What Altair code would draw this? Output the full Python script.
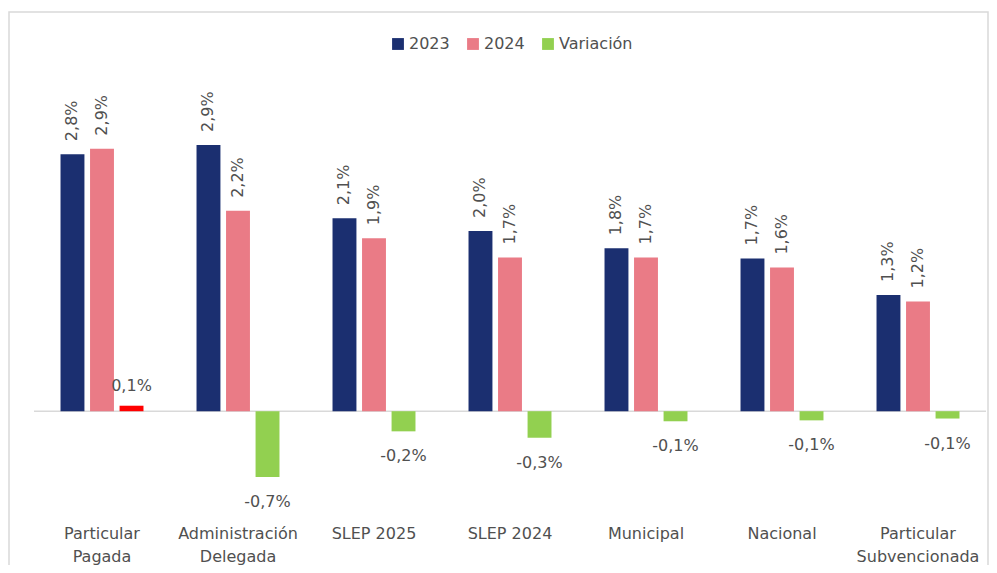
import altair as alt
import pandas as pd

categories = ["Particular|Pagada", "Administración|Delegada", "SLEP 2025", "SLEP 2024",
              "Municipal", "Nacional", "Particular|Subvencionada"]
series = ["2023", "2024", "Variación"]
v2023 = [2.81, 2.91, 2.11, 1.97, 1.78, 1.67, 1.27]
v2024 = [2.87, 2.19, 1.89, 1.68, 1.68, 1.57, 1.20]
vvar = [0.06, -0.72, -0.22, -0.29, -0.11, -0.10, -0.08]
colors = ["#1b2f70", "#ea7b86", "#92d050"]

rows = []
for i, c in enumerate(categories):
    rows.append({"cat": c, "series": "2023", "v": v2023[i]})
    rows.append({"cat": c, "series": "2024", "v": v2024[i]})
    rows.append({"cat": c, "series": "Variación", "v": vvar[i]})
df = pd.DataFrame(rows)

FONT = "DejaVu Sans"
TXT = "#505050"
FS = 16

x_enc = alt.X("cat:N", sort=categories, title=None,
              scale=alt.Scale(paddingInner=0.39, paddingOuter=0.195),
              axis=alt.Axis(labelExpr="split(datum.label, '|')", labelAngle=0,
                            labelFontSize=FS, labelColor=TXT, labelFont=FONT,
                            labelLineHeight=23, labelPadding=4, domain=False,
                            ticks=False, labelBaseline="top"))
xo_enc = alt.XOffset("series:N", sort=series, scale=alt.Scale(paddingInner=0.19))
y_scale = alt.Scale(domain=[-1.2, 3.5], nice=False, zero=False)
y_enc = alt.Y("v:Q", scale=y_scale, axis=None, title=None)

label_expr = "(datum.v < 0 ? '-' : '') + replace(format(abs(datum.v), '.1f'), '.', ',') + '%'"

base = alt.Chart(df).encode(x=x_enc, xOffset=xo_enc, y=y_enc)

bars = base.mark_bar().encode(
    y2=alt.datum(0),
    color=alt.condition(
        "datum.series == 'Variación' && datum.v > 0",
        alt.value("#ff0000"),
        alt.Color("series:N", sort=series,
                  scale=alt.Scale(domain=series, range=colors),
                  legend=alt.Legend(title=None, orient="none", direction="horizontal",
                                    legendX=356, legendY=-55, symbolType="square",
                                    symbolSize=140, symbolStrokeWidth=0,
                                    labelFontSize=FS, labelColor=TXT, labelFont=FONT,
                                    columnPadding=15, symbolOffset=0, labelOffset=3)),
    ),
)

zero = alt.Chart(pd.DataFrame({"z": [0]})).mark_rule(color="#d9d9d9", strokeWidth=1.5).encode(
    y=alt.Y("z:Q", scale=y_scale, axis=None))

rot_labels = base.transform_filter("datum.series != 'Variación'").transform_calculate(
    lab=label_expr).mark_text(angle=270, align="left", baseline="middle", dx=13,
                              fontSize=FS, color=TXT, font=FONT).encode(text="lab:N")

var_neg = base.transform_filter("datum.series == 'Variación' && datum.v < 0").transform_calculate(
    lab=label_expr).mark_text(align="center", baseline="middle", dy=25,
                              fontSize=FS, color=TXT, font=FONT).encode(text="lab:N")

var_pos = base.transform_filter("datum.series == 'Variación' && datum.v >= 0").transform_calculate(
    lab=label_expr).mark_text(align="center", baseline="middle", dy=-20,
                              fontSize=FS, color=TXT, font=FONT).encode(text="lab:N")

border = alt.Chart(pd.DataFrame({"a": [0]})).mark_rect(
    fill=None, stroke="#d9d9d9", strokeWidth=1.5).encode(
    x=alt.value(-25), x2=alt.value(954), y=alt.value(-79), y2=alt.value(520))

chart = alt.layer(border, zero, bars, rot_labels, var_neg, var_pos).properties(
    width=952, height=430,
    autosize=alt.AutoSizeParams(type="none"),
    padding={"left": 26, "top": 83, "right": 3, "bottom": 44},
).configure_view(stroke=None)

chart.save("out.html", embed_options={"renderer": "svg", "actions": False})
